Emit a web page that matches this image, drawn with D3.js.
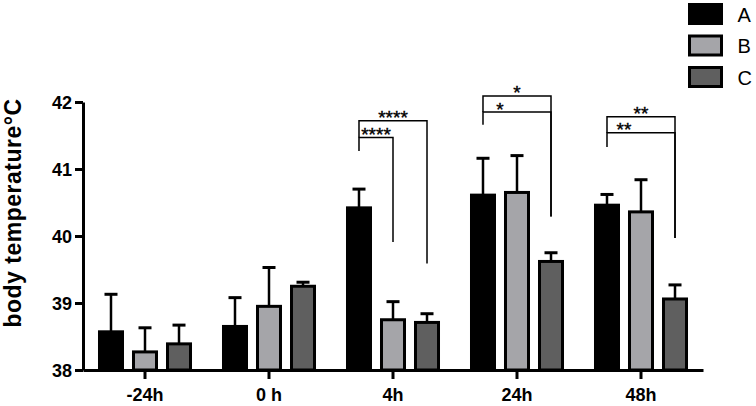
<!DOCTYPE html>
<html>
<head>
<meta charset="utf-8">
<script src="https://cdn.jsdelivr.net/npm/d3@7"></script>
<style>
    body { margin: 0; background: #fff; }
    svg { display: block; font-family: 'Liberation Sans', Arial, sans-serif; }
</style>
</head>
<body>
<svg id="vis" width="756" height="406"></svg>
<script>
'use strict';

var categories = ['-24h', '0 h', '4h', '24h', '48h'];
var seriesNames = ['A', 'B', 'C'];
var seriesColors = ['#000000', '#a5a5a9', '#5f5f5f'];

var valuesA = [38.57, 38.65, 40.42, 40.61, 40.46];
var valuesB = [38.27, 38.95, 38.75, 40.65, 40.36];
var valuesC = [38.39, 39.25, 38.71, 39.62, 39.06];
var errorsA = [0.56, 0.43, 0.28, 0.55, 0.16];
var errorsB = [0.36, 0.58, 0.27, 0.55, 0.48];
var errorsC = [0.28, 0.06, 0.13, 0.13, 0.21];

var yTicks = [38, 39, 40, 41, 42];

// significance brackets: category, from series, to series, label centred between A and labelAt
var sigCats = ['4h', '4h', '24h', '24h', '48h', '48h'];
var sigFrom = ['A', 'A', 'A', 'A', 'A', 'A'];
var sigTo = ['B', 'C', 'C', 'C', 'C', 'C'];
var sigLabelAt = ['B', 'C', 'B', 'C', 'B', 'C'];
var sigTop = [41.47, 41.72, 41.85, 42.09, 41.54, 41.78];
var sigLeftEnd = [41.27, 41.47, 41.66, 41.85, 41.33, 41.54];
var sigRightEnd = [39.91, 39.59, 40.29, 40.29, 39.97, 39.97];
var sigLabels = ['****', '****', '*', '*', '**', '**'];

(function () {
    var svg = d3.select('#vis');
    var margin = {top: 102, left: 83};
    var width = 620, height = 268;

    var values = [valuesA, valuesB, valuesC];
    var errors = [errorsA, errorsB, errorsC];

    var x = d3.scaleBand().domain(categories).range([0, width]);
    var x1 = d3.scaleBand().domain(seriesNames).range([0, x.bandwidth()])
        .paddingInner(0.3235).paddingOuter(0.485);
    var y = d3.scaleLinear().domain([38, 42]).range([height, 0]);

    var g = svg.append('g').attr('transform', 'translate(' + margin.left + ',' + margin.top + ')');

    function cx(cat, s) { return x(cat) + x1(s) + x1.bandwidth() / 2; }

    // bars + error bars
    seriesNames.forEach(function (s, si) {
        var rows = categories.map(function (c, i) {
            return {cat: c, v: values[si][i], e: errors[si][i]};
        });
        var sg = g.append('g');

        sg.selectAll('line.stem')
            .data(rows).enter().append('line')
            .attr('x1', function (d) { return cx(d.cat, s); })
            .attr('x2', function (d) { return cx(d.cat, s); })
            .attr('y1', function (d) { return y(d.v); })
            .attr('y2', function (d) { return y(d.v + d.e); })
            .attr('stroke', '#000').attr('stroke-width', 2.5);

        sg.selectAll('line.cap')
            .data(rows).enter().append('line')
            .attr('x1', function (d) { return cx(d.cat, s) - 6.5; })
            .attr('x2', function (d) { return cx(d.cat, s) + 6.5; })
            .attr('y1', function (d) { return y(d.v + d.e); })
            .attr('y2', function (d) { return y(d.v + d.e); })
            .attr('stroke', '#000').attr('stroke-width', 3);

        sg.selectAll('rect')
            .data(rows).enter().append('rect')
            .attr('x', function (d) { return x(d.cat) + x1(s); })
            .attr('y', function (d) { return y(d.v); })
            .attr('width', x1.bandwidth())
            .attr('height', function (d) { return height - y(d.v); })
            .attr('fill', seriesColors[si])
            .attr('stroke', '#000')
            .attr('stroke-width', 3);
    });

    // axes
    var yAxis = g.append('g')
        .call(d3.axisLeft(y).tickValues(yTicks).tickFormat(d3.format('d')).tickSize(8).tickSizeOuter(0).tickPadding(3));
    var xAxis = g.append('g')
        .attr('transform', 'translate(0,' + height + ')')
        .call(d3.axisBottom(x).tickSize(9).tickSizeOuter(0).tickPadding(5));

    [yAxis, xAxis].forEach(function (ax) {
        ax.select('.domain').attr('stroke', '#000').attr('stroke-width', 3);
        ax.selectAll('.tick line').attr('stroke', '#000').attr('stroke-width', 3);
        ax.selectAll('.tick text')
            .attr('fill', '#000')
            .style('font-family', "'Liberation Sans', Arial, sans-serif")
            .style('font-weight', 'bold');
    });
    yAxis.selectAll('.tick text').style('font-size', '18px').attr('dy', '0.36em');
    xAxis.selectAll('.tick text').style('font-size', '18px').attr('dy', '0.95em');

    // y title
    svg.append('text')
        .attr('transform', 'translate(21,213) rotate(-90)')
        .style('text-anchor', 'middle')
        .style('font-size', '23px')
        .style('font-weight', 'bold')
        .style('letter-spacing', '0.5px')
        .text('body temperature°C');

    // significance brackets
    sigCats.forEach(function (c, i) {
        var xl = cx(c, sigFrom[i]), xr = cx(c, sigTo[i]);
        var yt = y(sigTop[i]);
        g.append('path')
            .attr('d', 'M' + xl + ',' + y(sigLeftEnd[i]) + 'V' + yt + 'H' + xr + 'V' + y(sigRightEnd[i]))
            .attr('fill', 'none')
            .attr('stroke', '#000')
            .attr('stroke-width', 1.5);
        g.append('text')
            .attr('x', (xl + cx(c, sigLabelAt[i])) / 2)
            .attr('y', yt + 3.5)
            .style('text-anchor', 'middle')
            .style('font-size', '19px')
            .attr('stroke', '#000')
            .attr('stroke-width', 0.4)
            .text(sigLabels[i]);
    });

    // legend
    var legend = svg.append('g').attr('transform', 'translate(689.5,4.5)');
    seriesNames.forEach(function (s, i) {
        var row = legend.append('g').attr('transform', 'translate(0,' + (i * 31.5) + ')');
        row.append('rect')
            .attr('width', 32).attr('height', 19)
            .attr('fill', seriesColors[i])
            .attr('stroke', '#000').attr('stroke-width', 3);
        row.append('text')
            .attr('x', 48).attr('y', 17)
            .style('font-size', '20px')
            .text(s);
    });
})();
</script>
</body>
</html>
